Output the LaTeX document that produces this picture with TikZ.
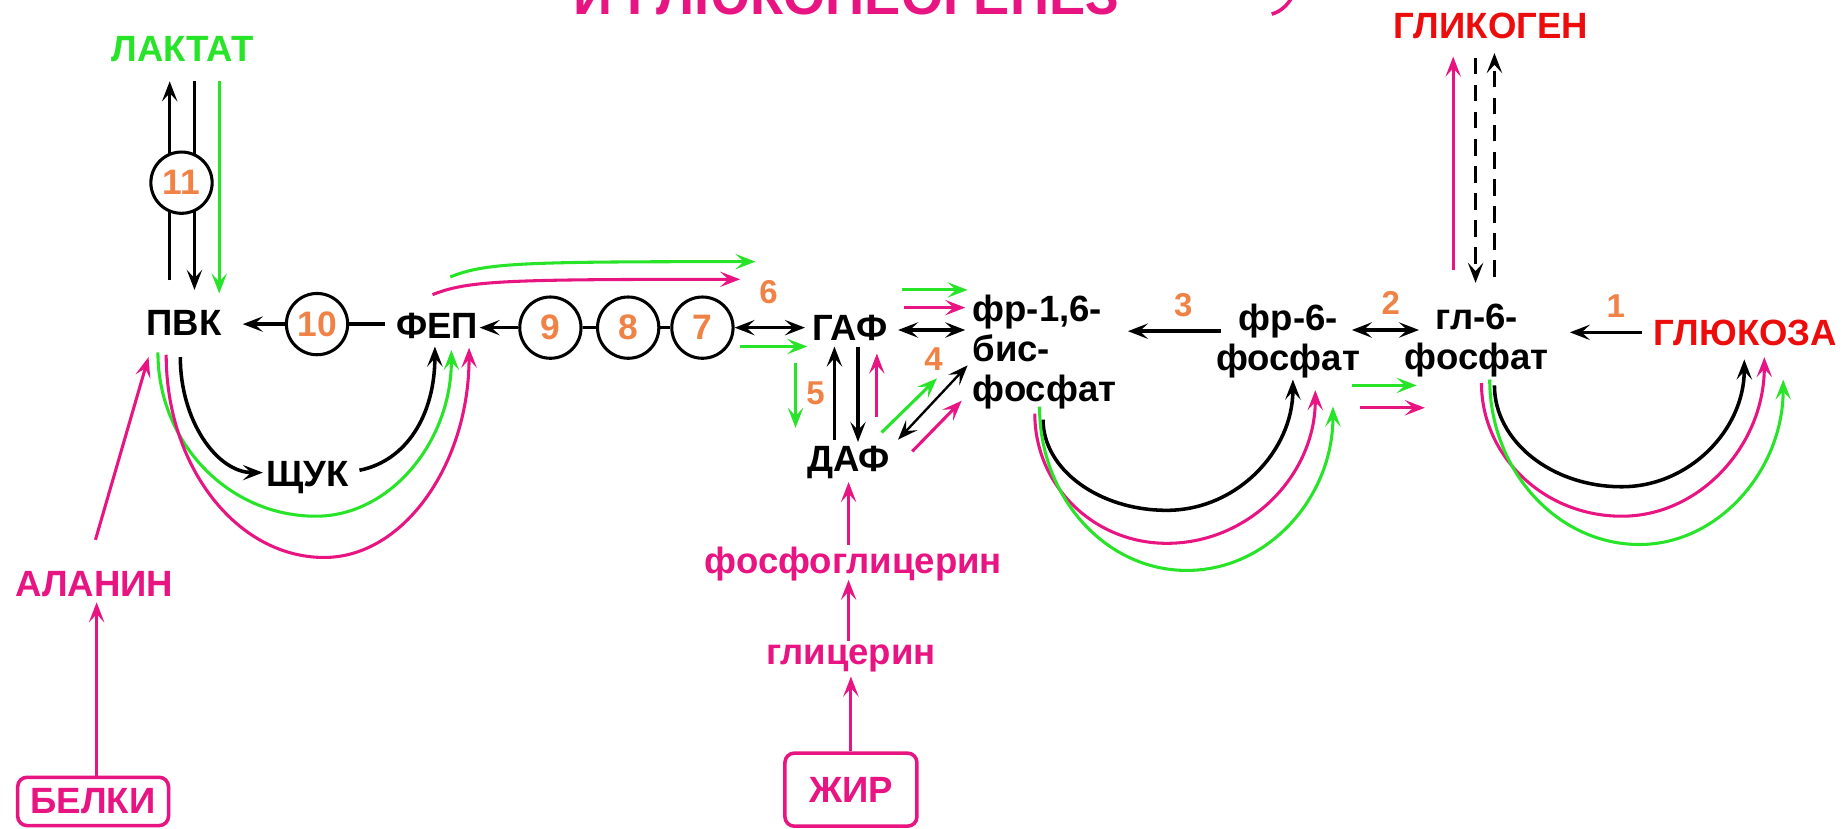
\documentclass[tikz,border=0pt]{standalone}
\usepackage{fontspec}
\setmainfont{Liberation Sans}
\usetikzlibrary{arrows.meta}
\definecolor{gc}{RGB}{40,228,40}
\definecolor{pc}{RGB}{232,20,130}
\definecolor{rc}{RGB}{236,12,12}
\definecolor{oc}{RGB}{240,130,70}
\begin{document}
\begin{tikzpicture}[x=1pt, y=-1pt,
  lbl/.style={font=\fontsize{31}{34}\selectfont\bfseries, inner sep=0pt},
  redlbl/.style={lbl, text=rc},
  pinklbl/.style={lbl, text=pc},
  numlbl/.style={font=\fontsize{28}{28}\selectfont\bfseries, text=oc, inner sep=0pt},
  enz/.style={circle, draw=black, line width=2.6pt, fill=white, minimum size=52pt,
    inner sep=0pt, font=\fontsize{30}{30}\selectfont\bfseries, text=oc},
  srcbox/.style={draw=pc, line width=3pt, rounded corners=8pt, inner sep=0pt, text=pc,
    font=\fontsize{31}{34}\selectfont\bfseries},
  blk/.style={draw=black, line width=3pt, -{Stealth[length=17pt,width=13pt,inset=7pt]}},
  blkboth/.style={draw=black, line width=3pt,
    {Stealth[length=17pt,width=13pt,inset=7pt]}-{Stealth[length=17pt,width=13pt,inset=7pt]}},
  grn/.style={draw=gc, line width=2.6pt, -{Stealth[length=17pt,width=13pt,inset=7pt]}},
  pnk/.style={draw=pc, line width=2.6pt, -{Stealth[length=17pt,width=13pt,inset=7pt]}},
  plain/.style={draw=black, line width=3pt},
  dsh/.style={blk, dash pattern=on 14pt off 9pt}
]
\useasboundingbox (0,0) rectangle (1568,703);
\clip (0,0) rectangle (1568,703);
\fill[white] (0,0) rectangle (1568,703);

% heading, cut by the top edge
\node[pinklbl, font=\fontsize{46}{46}\selectfont\bfseries, anchor=base] (title) at (718,12) {И ГЛЮКОНЕОГЕНЕЗ};
\draw[pc, line width=3pt] (1079,12) .. controls (1086,10) and (1092,5) .. (1096,-2);

% metabolites
\node[lbl, text=gc, anchor=base] (lac) at (155,52) {ЛАКТАТ};
\node[redlbl, anchor=base] (glyc) at (1265,33) {ГЛИКОГЕН};
\node[lbl, anchor=base] (pvk) at (156,285) {ПВК};
\node[lbl, anchor=base] (fep) at (371,287) {ФЕП};
\node[lbl, anchor=base] (gaf) at (721,289) {ГАФ};
\node[lbl, anchor=base] (daf) at (720,400) {ДАФ};
\node[lbl, anchor=base] (shuk) at (261,413) {ЩУК};
\node[lbl, align=left, anchor=north west] (fbp) at (825,250) {фр-1,6-\\бис-\\фосфат};
\node[lbl, align=center, anchor=north] (f6p) at (1093,258) {фр-6-\\фосфат};
\node[lbl, align=center, anchor=north] (g6p) at (1253,258) {гл-6-\\фосфат};
\node[redlbl, anchor=base] (glc) at (1481,293) {ГЛЮКОЗА};
\node[pinklbl, anchor=base] (ala) at (80,506) {АЛАНИН};
\node[pinklbl, anchor=base] (fg) at (724,487) {фосфоглицерин};
\node[pinklbl, anchor=base] (gly) at (722,564) {глицерин};
\node[srcbox, minimum width=128pt, minimum height=41pt] (bel) at (79,680) {БЕЛКИ};
\node[srcbox, minimum width=112pt, minimum height=62pt] (fat) at (722,670) {ЖИР};

% step numbers
\node[numlbl] (n6) at (652,248) {6};
\node[numlbl] (n5) at (692,334) {5};
\node[numlbl] (n4) at (792,305) {4};
\node[numlbl] (n3) at (1004,259) {3};
\node[numlbl] (n2) at (1180,257) {2};
\node[numlbl] (n1) at (1371,260) {1};

% lactate <-> pyruvate
\draw[blk] ([shift={(-12,-47)}]pvk.base) -- ([shift={(-11,17)}]lac.base);
\draw[blk] ([shift={(10,17)}]lac.base) -- ([shift={(9,-39)}]pvk.base);
\draw[grn] ([shift={(31,17)}]lac.base) -- ([shift={(30,-36)}]pvk.base);
\node[enz] (e11) at (154,155) {11};

% enzymes of the main row
\node[enz] (e10) at (269,275) {10};
\node[enz] (e9) at (467,278) {9};
\node[enz] (e8) at (533,278) {8};
\node[enz] (e7) at (596,278) {7};

\draw[blk] (e10.west) -- ([shift={(50,-10)}]pvk.base);
\draw[plain] (e10.east) -- ([shift={(-44,-12)}]fep.base);
\draw[blk] (e9.west) -- ([shift={(36,-9)}]fep.base);
\draw[plain] (e9) -- (e8);
\draw[plain] (e8) -- (e7);
\draw[blkboth] (e7.east) -- ([shift={(-38,-11)}]gaf.base);
\draw[grn] ([shift={(32,16)}]e7.center) -- ([shift={(-36,5)}]gaf.base);

% bypass arrows over the top
\draw[grn] ([shift={(11,-52)}]fep.base) .. controls +(30,-12) and +(-200,0) .. ([shift={(-80,-67)}]gaf.base);
\draw[pnk] ([shift={(-4,-37)}]fep.base) .. controls +(30,-12) and +(-200,0) .. ([shift={(-93,-52)}]gaf.base);

% pyruvate -> oxaloacetate -> PEP
\draw[blk] ([shift={(-3,18)}]pvk.base) .. controls +(0,54) and +(-39,0) .. ([shift={(-38,-12)}]shuk.base);
\draw[blk] ([shift={(44,-14)}]shuk.base) .. controls +(40,-8) and +(0,58) .. ([shift={(-2,7)}]fep.base);
\draw[grn] ([shift={(-22,14)}]pvk.base) .. controls +(0,77) and +(-74,0) .. ([shift={(7,25)}]shuk.base)
  .. controls +(63,0) and +(0,78) .. ([shift={(12,10)}]fep.base);
\draw[pnk] ([shift={(-15,16)}]pvk.base) .. controls +(0,95) and +(-74,0) .. ([shift={(14,60)}]shuk.base)
  .. controls +(68,0) and +(0,98) .. ([shift={(27,8)}]fep.base);

% protein route
\draw[pnk] ([shift={(1,-48)}]ala.base) -- ([shift={(-30,18)}]pvk.base);
\draw[pnk] ([xshift=3pt]bel.north) -- ([shift={(2,5)}]ala.base);

% fat route
\draw[pnk] (fat.north) -- ([shift={(0,10)}]gly.base);
\draw[pnk] ([shift={(-2,-20)}]gly.base) -- ([shift={(-4,5)}]fg.base);
\draw[pnk] ([shift={(-4,-25)}]fg.base) -- ([shift={(0,9)}]daf.base);

% triose phosphates
\draw[grn] ([shift={(-46,19)}]gaf.base) -- ([shift={(-45,-37)}]daf.base);
\draw[blk] ([shift={(-12,-27)}]daf.base) -- ([shift={(-13,5)}]gaf.base);
\draw[blk] ([shift={(7,5)}]gaf.base) -- ([shift={(8,-25)}]daf.base);
\draw[pnk] ([shift={(24,-46)}]daf.base) -- ([shift={(23,11)}]gaf.base);

\draw[blkboth] ([shift={(41,-9)}]gaf.base) -- ([shift={(-6,30)}]fbp.north west);
\draw[grn] ([shift={(44,-43)}]gaf.base) -- ([shift={(-4,-4)}]fbp.north west);
\draw[pnk] ([shift={(46,-28)}]gaf.base) -- ([shift={(-6,11)}]fbp.north west);

\draw[grn] ([shift={(28,-33)}]daf.base) -- ([shift={(-30,71)}]fbp.north west);
\draw[blkboth, line width=2pt] ([shift={(42,-27)}]daf.base) -- ([shift={(-4,60)}]fbp.north west);
\draw[pnk] ([shift={(54,-17)}]daf.base) -- ([shift={(-9,90)}]fbp.north west);

% hexose phosphates
\draw[blk] ([shift={(-57,23)}]f6p.north) -- ([shift={(132,31)}]fbp.north west);
\draw[blkboth] ([shift={(54,22)}]f6p.north) -- ([shift={(-49,22)}]g6p.north);
\draw[grn] ([shift={(54,69)}]f6p.north) -- ([shift={(-51,69)}]g6p.north);
\draw[pnk] ([shift={(61,88)}]f6p.north) -- ([shift={(-44,88)}]g6p.north);
\draw[blk] ([shift={(-88,-11)}]glc.base) -- ([shift={(79,24)}]g6p.north);

% fructose bisphosphatase bypass
\draw[blk] ([shift={(60,106)}]fbp.north west) .. controls +(0,42) and +(-58,0) .. ([shift={(-103,175)}]f6p.north)
  .. controls +(59,0) and +(0,61) .. ([shift={(4,64)}]f6p.north);
\draw[pnk] ([shift={(53,101)}]fbp.north west) .. controls +(0,61) and +(-62,0) .. ([shift={(-103,203)}]f6p.north)
  .. controls +(70,0) and +(0,72) .. ([shift={(23,73)}]f6p.north);
\draw[grn] ([shift={(57,95)}]fbp.north west) .. controls +(0,77) and +(-69,0) .. ([shift={(-86,226)}]f6p.north)
  .. controls +(69,0) and +(0,77) .. ([shift={(38,87)}]f6p.north);

% glucose-6-phosphatase bypass
\draw[blk] ([shift={(15,69)}]g6p.north) .. controls +(0,47) and +(-60,0) .. ([shift={(-105,120)}]glc.base)
  .. controls +(57,0) and +(0,60) .. ([shift={(-1,12)}]glc.base);
\draw[pnk] ([shift={(4,67)}]g6p.north) .. controls +(0,62) and +(-66,0) .. ([shift={(-105,145)}]glc.base)
  .. controls +(67,0) and +(0,74) .. ([shift={(16,10)}]glc.base);
\draw[grn] ([shift={(11,64)}]g6p.north) .. controls +(0,77) and +(-70,0) .. ([shift={(-90,169)}]glc.base)
  .. controls +(67,0) and +(0,77) .. ([shift={(32,29)}]glc.base);

% glycogen
\draw[pnk] ([shift={(-20,-29)}]g6p.north) -- ([shift={(-32,15)}]glyc.base);
\draw[dsh] ([shift={(-13,16)}]glyc.base) -- ([shift={(-1,-18)}]g6p.north);
\draw[dsh] ([shift={(15,-23)}]g6p.north) -- ([shift={(3,12)}]glyc.base);
\end{tikzpicture}
\end{document}
